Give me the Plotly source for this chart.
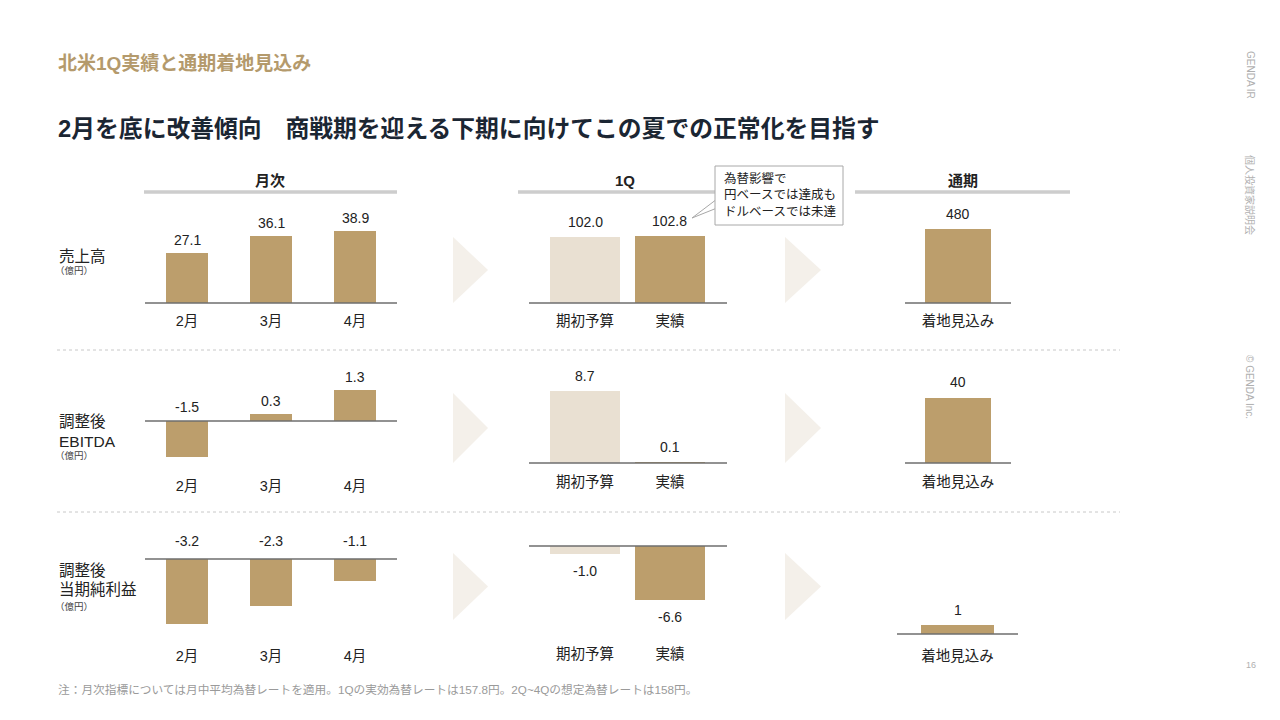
import plotly.graph_objects as go

W, H = 1280, 720

# ---------------- data ----------------
months = ["2月", "3月", "4月"]
q1_cats = ["期初予算", "実績"]
fy_cats = ["着地見込み"]

sales_monthly = [27.1, 36.1, 38.9]
sales_q1 = [102.0, 102.8]
sales_fy = [480]

ebitda_monthly = [-1.5, 0.3, 1.3]
ebitda_q1 = [8.7, 0.1]
ebitda_fy = [40]

ni_monthly = [-3.2, -2.3, -1.1]
ni_q1 = [-1.0, -6.6]
ni_fy = [1]

row_labels = [["売上高"], ["調整後", "EBITDA"], ["調整後", "当期純利益"]]
unit_label = "（億円）"
section_titles = ["月次", "1Q", "通期"]
page_title = "北米1Q実績と通期着地見込み"
headline = "2月を底に改善傾向　商戦期を迎える下期に向けてこの夏での正常化を目指す"
callout_lines = ["為替影響で", "円ベースでは達成も", "ドルベースでは未達"]
footnote = "注：月次指標については月中平均為替レートを適用。1Qの実効為替レートは157.8円。2Q~4Qの想定為替レートは158円。"
side_texts = ["GENDA IR", "個人投資家説明会", "© GENDA Inc."]
page_no = "16"

# ---------------- style ----------------
GOLD = "#BC9E6C"
LIGHT = "#E9E0D2"
ARROW = "#F4F0EA"
TITLE_GOLD = "#B49A6C"
DARK = "#1B2633"
TXT = "#222222"
FONT = "Liberation Sans, Arial, Noto Sans CJK JP, sans-serif"


def px(x):
    return x / W


def py(y):
    return 1 - y / H


fig = go.Figure()
shapes = []
annotations = []

COLS = {
    "m": dict(cats=months, xd=(145, 397), xr=[-0.5, 2.5], bw=0.5, fmt="{:.1f}"),
    "q": dict(cats=q1_cats, xd=(529, 727), xr=[-0.659, 1.671], bw=0.835, fmt="{:.1f}"),
    "f": dict(cats=fy_cats, xd=(905, 1011), xr=[-0.5, 0.5], bw=0.62, fmt="{:.0f}"),
}

panels = [
    # row 1
    dict(col="m", vals=sales_monthly, colors=[GOLD] * 3, base=303, scale=1.845, tick=321, top=200, mode="top", gap=3),
    dict(col="q", vals=sales_q1, colors=[LIGHT, GOLD], base=303, scale=0.65, tick=321, top=200, mode="top", gap=5),
    dict(col="f", vals=sales_fy, colors=[GOLD], base=303, scale=0.154, tick=321, top=200, mode="top", gap=5),
    # row 2
    dict(col="m", vals=ebitda_monthly, colors=[GOLD] * 3, base=421, scale=24, tick=486, top=360, mode="month", gap=4),
    dict(col="q", vals=ebitda_q1, colors=[LIGHT, GOLD], base=463, scale=8.3, tick=482, top=360, mode="top", gap=5),
    dict(col="f", vals=ebitda_fy, colors=[GOLD], base=463, scale=1.625, tick=482, top=360, mode="top", gap=6),
    # row 3
    dict(col="m", vals=ni_monthly, colors=[GOLD] * 3, base=559, scale=20.3, tick=656, top=520, mode="month", gap=8),
    dict(col="q", vals=ni_q1, colors=[LIGHT, GOLD], base=546, scale=8.2, tick=654, top=520, mode="end", gap=7),
    dict(col="f", vals=ni_fy, colors=[GOLD], base=634, scale=9, tick=656, top=520, mode="top", gap=5,
         xd=(897, 1018), bw=0.61),
]

layout_axes = {}
for i, p in enumerate(panels, start=1):
    c = COLS[p["col"]]
    xd = p.get("xd", c["xd"])
    bw = p.get("bw", c["bw"])
    bottom = p["tick"] - 11
    yr = [(p["base"] - bottom) / p["scale"], (p["base"] - p["top"]) / p["scale"]]
    xa = "x" if i == 1 else f"x{i}"
    ya = "y" if i == 1 else f"y{i}"
    xkey = "xaxis" if i == 1 else f"xaxis{i}"
    ykey = "yaxis" if i == 1 else f"yaxis{i}"
    fig.add_trace(go.Bar(
        x=c["cats"], y=p["vals"], width=bw,
        marker=dict(color=p["colors"], line=dict(width=0)),
        xaxis=xa, yaxis=ya, showlegend=False, hoverinfo="skip",
    ))
    layout_axes[xkey] = dict(
        domain=[px(xd[0]), px(xd[1])], anchor=ya, type="category",
        range=c["xr"], showgrid=False, zeroline=False, showline=False,
        ticks="", tickfont=dict(size=14.5, color=TXT, family=FONT), fixedrange=True,
    )
    layout_axes[ykey] = dict(
        domain=[py(bottom), py(p["top"])], anchor=xa, range=yr,
        visible=False, fixedrange=True,
    )
    shapes.append(dict(type="line", xref=f"{xa} domain", yref=ya, x0=0, x1=1, y0=0, y1=0,
                       line=dict(color="#6E6E6E", width=1.3), layer="above"))
    for cat, v in zip(c["cats"], p["vals"]):
        txt = c["fmt"].format(v)
        if p["mode"] == "top":
            yv, anc, sh = v, "bottom", p["gap"]
        elif p["mode"] == "month":
            yv, anc, sh = max(v, 0), "bottom", p["gap"] if v < 0 else 3
        else:
            yv, anc, sh = v, "top", -p["gap"]
        annotations.append(dict(xref=xa, yref=ya, x=cat, y=yv, text=txt, showarrow=False,
                                yanchor=anc, yshift=sh, font=dict(size=14, color=TXT, family=FONT)))

header_geo = [(270, 144, 397), (625, 518, 733), (963, 855, 1070)]
for t, (cx, x0, x1) in zip(section_titles, header_geo):
    annotations.append(dict(xref="paper", yref="paper", x=px(cx), y=py(180), text=f"<b>{t}</b>",
                            showarrow=False, xanchor="center", yanchor="middle",
                            font=dict(size=15, color=TXT, family=FONT)))
    shapes.append(dict(type="line", xref="paper", yref="paper", x0=px(x0), x1=px(x1),
                       y0=py(192), y1=py(192), line=dict(color="#CDCDCD", width=3.5)))

for yy in (350, 512):
    shapes.append(dict(type="line", xref="paper", yref="paper", x0=px(57), x1=px(1120),
                       y0=py(yy), y1=py(yy), line=dict(color="#C8C8C8", width=1, dash="dot")))

for (y0, y1) in [(237, 303), (393, 463), (553, 620)]:
    for (x0, x1) in [(453, 488), (785, 821)]:
        ym = (y0 + y1) / 2
        path = f"M {px(x0)},{py(y0)} L {px(x1)},{py(ym)} L {px(x0)},{py(y1)} Z"
        shapes.append(dict(type="path", xref="paper", yref="paper", path=path,
                           fillcolor=ARROW, line=dict(width=0), layer="below"))

ptr = f"M {px(692)},{py(218)} L {px(717)},{py(199)} L {px(717)},{py(208)} Z"
shapes.append(dict(type="path", xref="paper", yref="paper", path=ptr,
                   fillcolor="white", line=dict(color="#A8A8A8", width=1), layer="above"))
shapes.append(dict(type="rect", xref="paper", yref="paper", x0=px(715), x1=px(843),
                   y0=py(225), y1=py(166), fillcolor="white",
                   line=dict(color="#A8A8A8", width=1), layer="above"))
annotations.append(dict(xref="paper", yref="paper", x=px(722), y=py(196),
                        text="<br>".join(callout_lines), showarrow=False, align="left",
                        xanchor="left", yanchor="middle",
                        font=dict(size=12.5, color=TXT, family=FONT)))

row_label_y = [[256], [421, 441], [570, 589]]
unit_y = [270, 455, 606]
for lines, ys, uy in zip(row_labels, row_label_y, unit_y):
    for t, yy in zip(lines, ys):
        annotations.append(dict(xref="paper", yref="paper", x=px(57), y=py(yy), text=t,
                                showarrow=False, xanchor="left", yanchor="middle",
                                font=dict(size=15.5, color=TXT, family=FONT)))
    annotations.append(dict(xref="paper", yref="paper", x=px(53), y=py(uy), text=unit_label,
                            showarrow=False, xanchor="left", yanchor="middle",
                            font=dict(size=9.5, color="#444444", family=FONT)))

annotations.append(dict(xref="paper", yref="paper", x=px(56), y=py(63), text=f"<b>{page_title}</b>",
                        showarrow=False, xanchor="left", yanchor="middle",
                        font=dict(size=19, color=TITLE_GOLD, family=FONT)))
annotations.append(dict(xref="paper", yref="paper", x=px(56), y=py(128), text=f"<b>{headline}</b>",
                        showarrow=False, xanchor="left", yanchor="middle",
                        font=dict(size=23.8, color=DARK, family=FONT)))

annotations.append(dict(xref="paper", yref="paper", x=px(56), y=py(689), text=footnote,
                        showarrow=False, xanchor="left", yanchor="middle",
                        font=dict(size=11.7, color="#9A9A9A", family=FONT)))

for t, yy in zip(side_texts, [75, 195, 387]):
    annotations.append(dict(xref="paper", yref="paper", x=px(1250), y=py(yy), text=t,
                            showarrow=False, textangle=90, xanchor="center", yanchor="middle",
                            font=dict(size=10, color="#B0B0B0", family=FONT)))
annotations.append(dict(xref="paper", yref="paper", x=px(1251), y=py(665), text=page_no,
                        showarrow=False, xanchor="center", yanchor="middle",
                        font=dict(size=9, color="#B0B0B0", family=FONT)))

fig.update_layout(
    width=W, height=H,
    margin=dict(l=0, r=0, t=0, b=0),
    paper_bgcolor="white", plot_bgcolor="rgba(0,0,0,0)",
    font=dict(family=FONT, color=TXT),
    bargap=0, shapes=shapes, annotations=annotations,
    showlegend=False,
    **layout_axes,
)

fig.write_html(
    "out.html",
    config={"displayModeBar": False},
    post_script="document.body.style.margin='0';document.body.style.padding='0';document.body.style.overflow='hidden';",
)
